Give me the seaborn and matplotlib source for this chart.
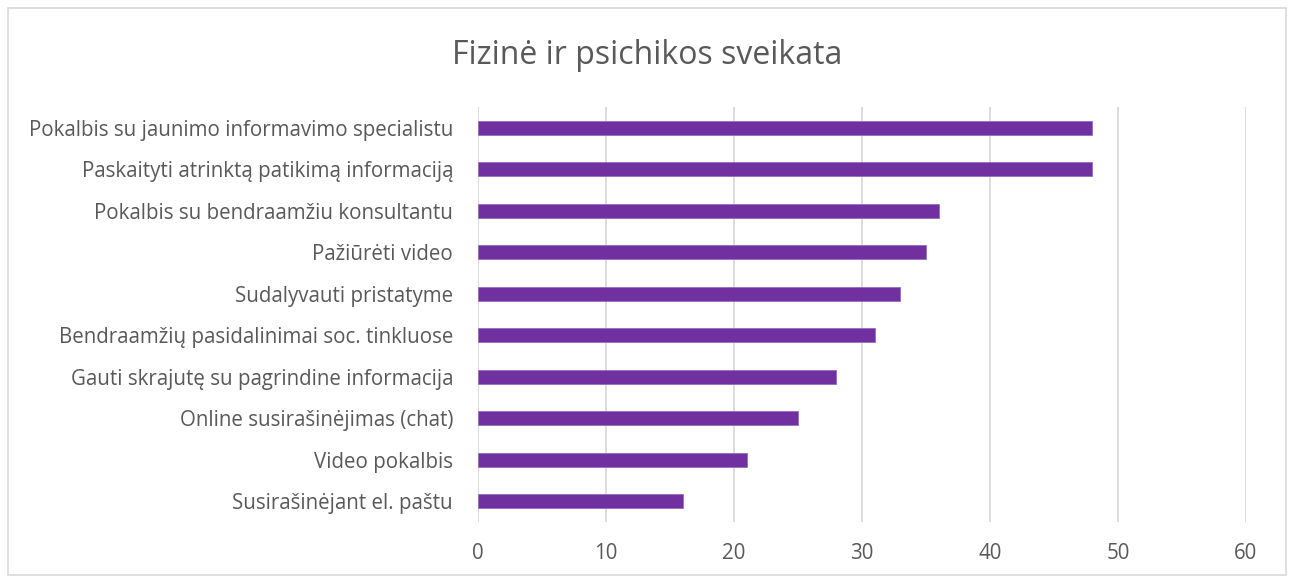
import matplotlib
matplotlib.use("Agg")
import matplotlib.pyplot as plt
import seaborn as sns
import pandas as pd

categories = [
    "Pokalbis su jaunimo informavimo specialistu",
    "Paskaityti atrinktą patikimą informaciją",
    "Pokalbis su bendraamžiu konsultantu",
    "Pažiūrėti video",
    "Sudalyvauti pristatyme",
    "Bendraamžių pasidalinimai soc. tinkluose",
    "Gauti skrajutę su pagrindine informacija",
    "Online susirašinėjimas (chat)",
    "Video pokalbis",
    "Susirašinėjant el. paštu",
]
values = [48, 48, 36, 35, 33, 31, 28, 25, 21, 16]
x_ticks = [0, 10, 20, 30, 40, 50, 60]

df = pd.DataFrame({"category": categories, "value": values})

sns.set_style("white")
plt.rcParams["font.family"] = ["Open Sans", "DejaVu Sans"]

fig = plt.figure(figsize=(12.94, 5.80), dpi=100)
ax = fig.add_axes([0.3694, 0.1, 0.5935, 0.7155])

sns.barplot(data=df, x="value", y="category", color="#7030A0",
            width=0.34, saturation=1, ax=ax, edgecolor="#9a6cc0", linewidth=0.6)

ax.set_xlim(0, 60)
ax.set_ylim(len(categories) - 0.5, -0.5)
ax.set_xticks(x_ticks)
ax.xaxis.grid(True, color="#d9d9d9", linewidth=1.3)
ax.set_axisbelow(True)
for s in ax.spines.values():
    s.set_visible(False)
ax.tick_params(axis="both", length=0, colors="#595959", labelsize=14.8)
ax.tick_params(axis="x", pad=15)
ax.tick_params(axis="y", pad=18)
ax.set_xlabel("")
ax.set_ylabel("")

fig.text(0.5, 0.905, "Fizinė ir psichikos sveikata", ha="center", va="center",
         fontsize=23, color="#595959")

border = plt.Rectangle((0.006, 0.008), 0.988, 0.978, transform=fig.transFigure,
                       fill=False, edgecolor="#d9d9d9", linewidth=1.2)
fig.patches.append(border)

fig.savefig("out.png", dpi=100, facecolor="white")
